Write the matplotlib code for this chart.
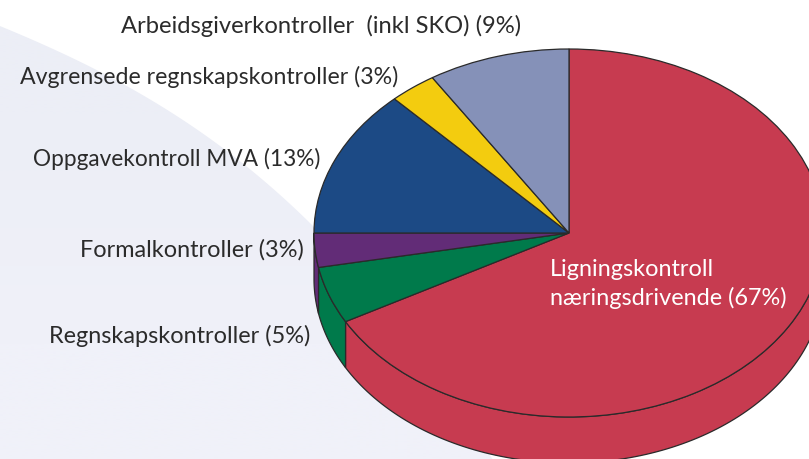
import matplotlib
matplotlib.use('Agg')
import matplotlib.pyplot as plt
import numpy as np
from matplotlib.patches import Polygon

# andeler i prosent, med klokka fra toppen
values = [67, 5, 3, 13, 3, 9]
labels = ['Ligningskontroll\nnæringsdrivende (67%)',
          'Regnskapskontroller (5%)',
          'Formalkontroller (3%)',
          'Oppgavekontroll MVA (13%)',
          'Avgrensede regnskapskontroller (3%)',
          'Arbeidsgiverkontroller  (inkl SKO) (9%)']
colors = ['#C73B50', '#007A4B', '#622C77', '#1C4A85', '#F3CC0F', '#8591B8']

W, H = 809, 460
CX, CY, RX, RY, DEPTH = 569, 234, 255, 184, 46
EDGE = '#2A2A2A'

plt.rcParams['font.family'] = ['Lato', 'DejaVu Sans']

fig = plt.figure(figsize=(W / 100, H / 100), dpi=100)
ax = fig.add_axes([0, 0, 1, 1])


def px(x, y):
    # pikselposisjon i bildet -> dataenheter der kakens radius er 1
    return (x - CX) / RX, (CY - y) / RY


# lys bakgrunnsform bak kaken, svakt lysere nedover
edge_x = np.array([0, 80, 133, 200, 250, 313])
edge_y = np.array([27, 63, 90, 133, 170, 227])
xs = np.linspace(0, 400, 120)
ys = np.polyval(np.polyfit(edge_x, edge_y, 3), xs)
bg_pts = [px(x, y) for x, y in zip(xs, ys)] + [px(520, 500), px(0, 500)]
bg_poly = Polygon(bg_pts, closed=True, fc='none', ec='none', zorder=0)
ax.add_patch(bg_poly)
rgb = matplotlib.colors.to_rgba_array(['#ECEEF6', '#F0F1F9']).reshape(2, 1, 4)
im = ax.imshow(rgb, extent=(px(0, H)[0], px(W, 0)[0], px(0, H)[1], px(0, 0)[1]),
               interpolation='bilinear', aspect='auto', zorder=0, origin='upper')
im.set_clip_path(bg_poly)

# sideveggen under kaken
fractions = np.cumsum([0] + values) / sum(values)
start = 90 - 360 * fractions[:-1]
end = 90 - 360 * fractions[1:]
depth = DEPTH / RY
for a, b, c in zip(start, end, colors):
    # bare den nedre halvdelen av sirkelen synes
    lo, hi = max(b, -180), min(a, 0)
    if hi <= lo:
        continue
    t = np.radians(np.linspace(lo, hi, 120))
    top = np.column_stack([np.cos(t), np.sin(t)])
    bottom = top[::-1] - [0, depth]
    ax.add_patch(Polygon(np.vstack([top, bottom]), closed=True, fc=c, ec=EDGE,
                         lw=0.9, zorder=1))

# selve kaken
ax.pie(values, colors=colors, startangle=90, counterclock=False, radius=1,
       wedgeprops={'edgecolor': EDGE, 'linewidth': 0.9, 'zorder': 2})

ax.set_aspect('auto')
ax.set_xlim(-CX / RX, (W - CX) / RX)
ax.set_ylim((CY - H) / RY, CY / RY)
ax.axis('off')

TEXT = '#2B2B2B'
label_pos = [(550, 284, 'left', 'white', 16.9),
             (310, 336, 'right', TEXT, 16.9),
             (304, 250, 'right', TEXT, 16.9),
             (320, 159, 'right', TEXT, 16.3),
             (398, 77, 'right', TEXT, 16.7),
             (521, 26, 'right', TEXT, 17.1)]
for lab, (x, y, ha, col, fs) in zip(labels, label_pos):
    tx, ty = px(x, y)
    ax.text(tx, ty, lab, ha=ha, va='center', color=col, fontsize=fs,
            linespacing=1.35, zorder=5)

fig.savefig('out.png', dpi=100)
